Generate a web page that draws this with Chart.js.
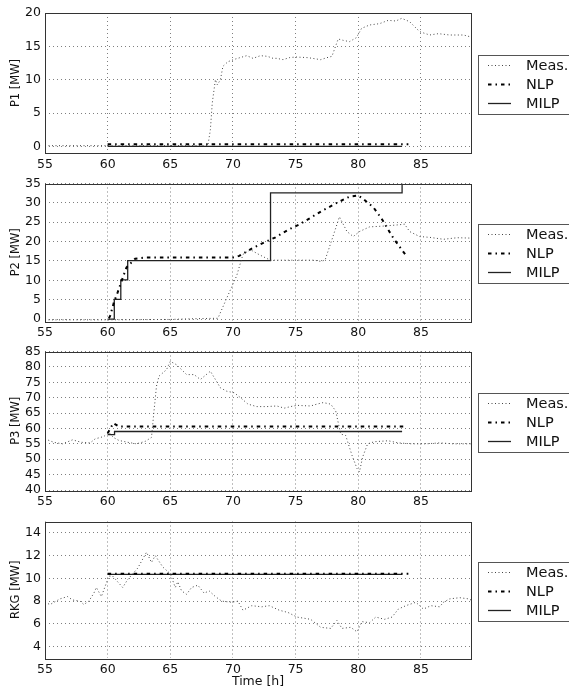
<!DOCTYPE html>
<html>
<head>
<meta charset="utf-8">
<script src="https://cdn.jsdelivr.net/npm/chart.js@4.4.0/dist/chart.umd.min.js"></script>
<style>
    html, body { margin: 0; padding: 0; background: #fff; overflow: hidden; }
    canvas { position: absolute; left: 0; }
</style>
</head>
<body>
<canvas id="c1" width="569" height="172" style="top:0px"></canvas>
<canvas id="c2" width="569" height="168" style="top:172px"></canvas>
<canvas id="c3" width="569" height="170" style="top:340px"></canvas>
<canvas id="c4" width="569" height="181" style="top:510px"></canvas>
<script>
// noms des series
const seriesNames = ['Meas.', 'NLP', 'MILP'];
const xTicks = [55, 60, 65, 70, 75, 80, 85];

// P1
const p1MeasT = [55, 60, 65, 68.0, 68.2, 68.35, 68.6, 68.75, 69.0, 69.2, 69.6, 70.2, 71.1, 71.6, 72.2, 72.75, 73.2, 73.5, 74.0, 74.5, 75.0, 76.0, 77.0, 77.5, 77.9, 78.4, 78.8, 79.3, 79.85, 80.27, 80.9, 81.7, 82.4, 83.0, 83.47, 84.1, 84.9, 85.7, 86.4, 87.3, 88.4, 89];
const p1MeasV = [0.1, 0.1, 0.1, 0.1, 2.5, 6.5, 10, 9.2, 10, 12.0, 12.7, 13.1, 13.6, 13.2, 13.6, 13.5, 13.2, 13.2, 13.0, 13.3, 13.4, 13.3, 13.0, 13.3, 13.5, 16.1, 15.9, 15.7, 16.3, 17.7, 18.2, 18.4, 18.9, 18.8, 19.2, 18.7, 17.2, 16.7, 16.9, 16.7, 16.7, 16.4];
const p1NlpT = [60, 84];
const p1NlpV = [0.3, 0.3];
const p1MilpT = [60, 83.5];
const p1MilpV = [0, 0];
const p1Ticks = [0, 5, 10, 15, 20];

// P2
const p2MeasT = [55, 60, 65, 67, 68.8, 69.6, 70.3, 70.8, 71.4, 72.0, 72.6, 73.0, 75.0, 76.5, 77.0, 77.35, 77.9, 78.5, 79.1, 79.6, 80.1, 80.9, 82.0, 83.1, 83.7, 84.1, 84.9, 85.7, 86.8, 87.9, 89];
const p2MeasV = [-0.2, -0.2, -0.1, 0.1, 0.2, 6.1, 11.2, 16.7, 17.9, 16.8, 15.8, 15.2, 15.2, 15.2, 14.9, 15.2, 20.5, 26.4, 22.6, 21.3, 22.6, 23.8, 24.0, 24.3, 24.5, 22.6, 21.3, 21.1, 20.6, 21.0, 20.9];
const p2NlpT = [60.1, 60.2, 60.5, 60.8, 61.0, 61.5, 62.2, 63, 70.0, 70.5, 71.5, 72.5, 73.4, 74.5, 75.35, 77.2, 78.3, 79.3, 80.0, 80.4, 81.2, 81.87, 82.8, 83.47, 83.87];
const p2NlpV = [0.2, 0.8, 4.3, 6.9, 8.8, 13.3, 15.6, 15.9, 15.9, 16.3, 18.2, 19.8, 21.1, 23.2, 24.5, 28.1, 30.0, 31.6, 31.9, 31.0, 28.9, 25.9, 20.9, 17.9, 16.2];
const p2MilpT = [60, 60.53, 61.05, 61.6, 73.0, 83.5];
const p2MilpV = [0, 5.1, 10.1, 15.1, 32.6, 35];
const p2Ticks = [0, 5, 10, 15, 20, 25, 30, 35];

// P3
const p3MeasT = [55, 55.7, 56.4, 57.2, 57.9, 58.6, 59.0, 59.7, 60.1, 60.45, 60.9, 61.6, 62.3, 63.0, 63.5, 63.7, 63.9, 64.1, 64.7, 65.0, 65.5, 66.3, 66.9, 67.4, 68.2, 68.6, 69.0, 69.5, 70.1, 70.6, 71.2, 71.9, 72.7, 73.5, 74.1, 74.6, 75.1, 76.2, 76.7, 77.2, 77.8, 78.2, 78.6, 79.0, 79.5, 79.9, 80.1, 80.35, 80.75, 81.3, 82.4, 83.2, 84.3, 85.4, 86.5, 87.6, 89];
const p3MeasV = [56.6, 55.5, 55.0, 56.3, 55.5, 55.3, 56.6, 57.4, 58.7, 57.1, 56.1, 55.5, 55.0, 55.8, 57.1, 65.7, 73.8, 77.0, 79.1, 81.8, 80.7, 77.5, 77.5, 75.9, 78.6, 75.9, 73.2, 72.1, 71.6, 70.0, 67.9, 67.1, 67.1, 67.3, 66.6, 67.1, 67.5, 67.3, 67.9, 68.4, 67.9, 65.7, 58.2, 57.7, 51.3, 47.0, 45.9, 50.7, 55.0, 55.7, 56.0, 55.3, 55.0, 55.0, 55.3, 55.0, 55.0];
const p3NlpT = [60, 60.45, 60.9, 83.6];
const p3NlpV = [58.4, 61.7, 60.6, 60.6];
const p3MilpT = [60, 60.55, 83.5];
const p3MilpV = [58.0, 59.0, 59.0];
const p3Ticks = [40, 45, 50, 55, 60, 65, 70, 75, 80, 85];

// RKG
const rkgMeasT = [55, 55.4, 56.2, 56.8, 57.2, 57.8, 58.1, 58.5, 58.9, 59.1, 59.5, 60.1, 60.4, 60.8, 61.2, 61.6, 62.0, 62.4, 63.1, 63.5, 63.8, 64.4, 65.0, 65.4, 65.6, 65.9, 66.3, 66.7, 67.2, 67.7, 68.1, 68.6, 69.1, 69.9, 70.4, 70.8, 71.5, 72.3, 72.9, 73.7, 74.4, 75.1, 76.2, 77.0, 77.8, 78.3, 78.7, 79.4, 79.9, 80.3, 80.9, 81.4, 82.1, 82.7, 83.2, 83.8, 84.6, 85.2, 85.8, 86.5, 86.8, 87.3, 88.1, 88.8, 89];
const rkgMeasV = [7.9, 7.7, 8.2, 8.4, 8.1, 8.0, 7.7, 8.0, 8.7, 9.2, 8.4, 10.2, 10.2, 9.7, 9.2, 9.9, 10.4, 10.9, 12.3, 11.4, 12.0, 11.0, 10.4, 9.2, 9.7, 8.9, 8.6, 9.2, 9.4, 8.7, 8.9, 8.4, 8.0, 7.9, 8.0, 7.2, 7.6, 7.5, 7.6, 7.2, 7.0, 6.6, 6.4, 5.7, 5.6, 6.3, 5.6, 5.7, 5.3, 6.2, 6.1, 6.6, 6.4, 6.6, 7.3, 7.6, 7.9, 7.3, 7.6, 7.5, 7.9, 8.2, 8.3, 8.2, 8.1];
const rkgNlpT = [60, 84];
const rkgNlpV = [10.4, 10.4];
const rkgMilpT = [60, 83.5];
const rkgMilpV = [10.35, 10.35];
const rkgTicks = [4, 6, 8, 10, 12, 14];

const FONT = 'DejaVu Sans';

function pts(t, v) {
    return t.map((x, i) => ({ x: x, y: v[i] }));
}

// cadre noir autour de la zone du graphe
const framePlugin = {
    id: 'frame',
    afterDatasetsDraw(chart) {
        const a = chart.chartArea;
        const ctx = chart.ctx;
        ctx.save();
        ctx.strokeStyle = '#333';
        ctx.lineWidth = 1;
        ctx.setLineDash([]);
        ctx.strokeRect(Math.round(a.left) + 0.5, Math.round(a.top) + 0.5, Math.round(a.right - a.left), Math.round(a.bottom - a.top));
        ctx.restore();
    }
};

// legende encadree a droite (style matplotlib)
const boxLegendPlugin = {
    id: 'boxLegend',
    afterDraw(chart) {
        const a = chart.chartArea;
        const ctx = chart.ctx;
        const cy = Math.round((a.top + a.bottom) / 2) + 1;
        const left = Math.round(a.right) + 7;
        ctx.save();
        ctx.fillStyle = '#fff';
        ctx.strokeStyle = '#555';
        ctx.lineWidth = 1;
        ctx.setLineDash([]);
        ctx.fillRect(left, cy - 29, 130, 59);
        ctx.strokeRect(left + 0.5, cy - 29 + 0.5, 130, 59);
        chart.data.datasets.forEach((ds, i) => {
            const y = cy - 19 + i * 19;
            ctx.strokeStyle = ds.borderColor;
            ctx.lineWidth = ds.borderWidth;
            ctx.setLineDash(ds.borderDash || []);
            ctx.beginPath();
            ctx.moveTo(left + 10, y + 0.5);
            ctx.lineTo(left + 33, y + 0.5);
            ctx.stroke();
            ctx.setLineDash([]);
            ctx.fillStyle = '#111';
            ctx.font = '14.5px "' + FONT + '"';
            ctx.textBaseline = 'middle';
            ctx.fillText(ds.label, left + 48, y + 1);
        });
        ctx.restore();
    }
};

function makePanel(id, yTitle, yMin, yMax, yTicks, meas, nlp, milp, top, xHeight, showXTitle) {
    const ctx = document.getElementById(id).getContext('2d');
    return new Chart(ctx, {
        type: 'line',
        data: {
            datasets: [{
                label: seriesNames[0],
                data: meas,
                borderColor: '#444',
                borderWidth: 1,
                borderDash: [1, 2.5]
            }, {
                label: seriesNames[1],
                data: nlp,
                borderColor: '#000',
                borderWidth: 2,
                borderDash: [3.5, 4, 1.5, 4]
            }, {
                label: seriesNames[2],
                data: milp,
                borderColor: '#222',
                borderWidth: 1.3,
                stepped: true
            }]
        },
        options: {
            responsive: false,
            animation: false,
            events: [],
            elements: { point: { radius: 0 }, line: { tension: 0, fill: false } },
            layout: { padding: { left: 0, top: top, right: 98, bottom: 0 } },
            plugins: { legend: { display: false }, tooltip: { enabled: false } },
            scales: {
                x: {
                    type: 'linear',
                    min: 55,
                    max: 89,
                    afterBuildTicks: (s) => { s.ticks = xTicks.map(v => ({ value: v })); },
                    afterFit: (s) => { s.height = xHeight; },
                    grid: { color: 'rgba(0,0,0,0.5)', lineWidth: 1, drawTicks: false },
                    border: { display: false, dash: [1, 3] },
                    ticks: { autoSkip: false, padding: 4, color: '#111', font: { family: FONT, size: 12.5 }, maxRotation: 0 },
                    title: {
                        display: showXTitle,
                        text: 'Time [h]',
                        color: '#111',
                        font: { family: FONT, size: 12.5 },
                        padding: { top: 0, bottom: 1.5 }
                    }
                },
                y: {
                    min: yMin,
                    max: yMax,
                    afterBuildTicks: (s) => { s.ticks = yTicks.map(v => ({ value: v })); },
                    afterFit: (s) => { s.width = 45; },
                    grid: { color: 'rgba(0,0,0,0.5)', lineWidth: 1, drawTicks: false },
                    border: { display: false, dash: [1, 3] },
                    ticks: { autoSkip: false, padding: 4, color: '#111', font: { family: FONT, size: 12.5 } },
                    title: {
                        display: true,
                        text: yTitle,
                        color: '#111',
                        font: { family: FONT, size: 11.5 },
                        padding: { top: 9, bottom: 0 }
                    }
                }
            }
        },
        plugins: [framePlugin, boxLegendPlugin]
    });
}

makePanel('c1', 'P1 [MW]', -1, 20, p1Ticks,
    pts(p1MeasT, p1MeasV), pts(p1NlpT, p1NlpV), pts(p1MilpT, p1MilpV), 13, 19, false);
makePanel('c2', 'P2 [MW]', -0.5, 35, p2Ticks,
    pts(p2MeasT, p2MeasV), pts(p2NlpT, p2NlpV), pts(p2MilpT, p2MilpV), 9, 19, false);
makePanel('c3', 'P3 [MW]', 40, 85, p3Ticks,
    pts(p3MeasT, p3MeasV), pts(p3NlpT, p3NlpV), pts(p3MilpT, p3MilpV), 10, 20, false);
makePanel('c4', 'RKG [MW]', 3, 15, rkgTicks,
    pts(rkgMeasT, rkgMeasV), pts(rkgNlpT, rkgNlpV), pts(rkgMilpT, rkgMilpV), 8, 33, true);
</script>
</body>
</html>
